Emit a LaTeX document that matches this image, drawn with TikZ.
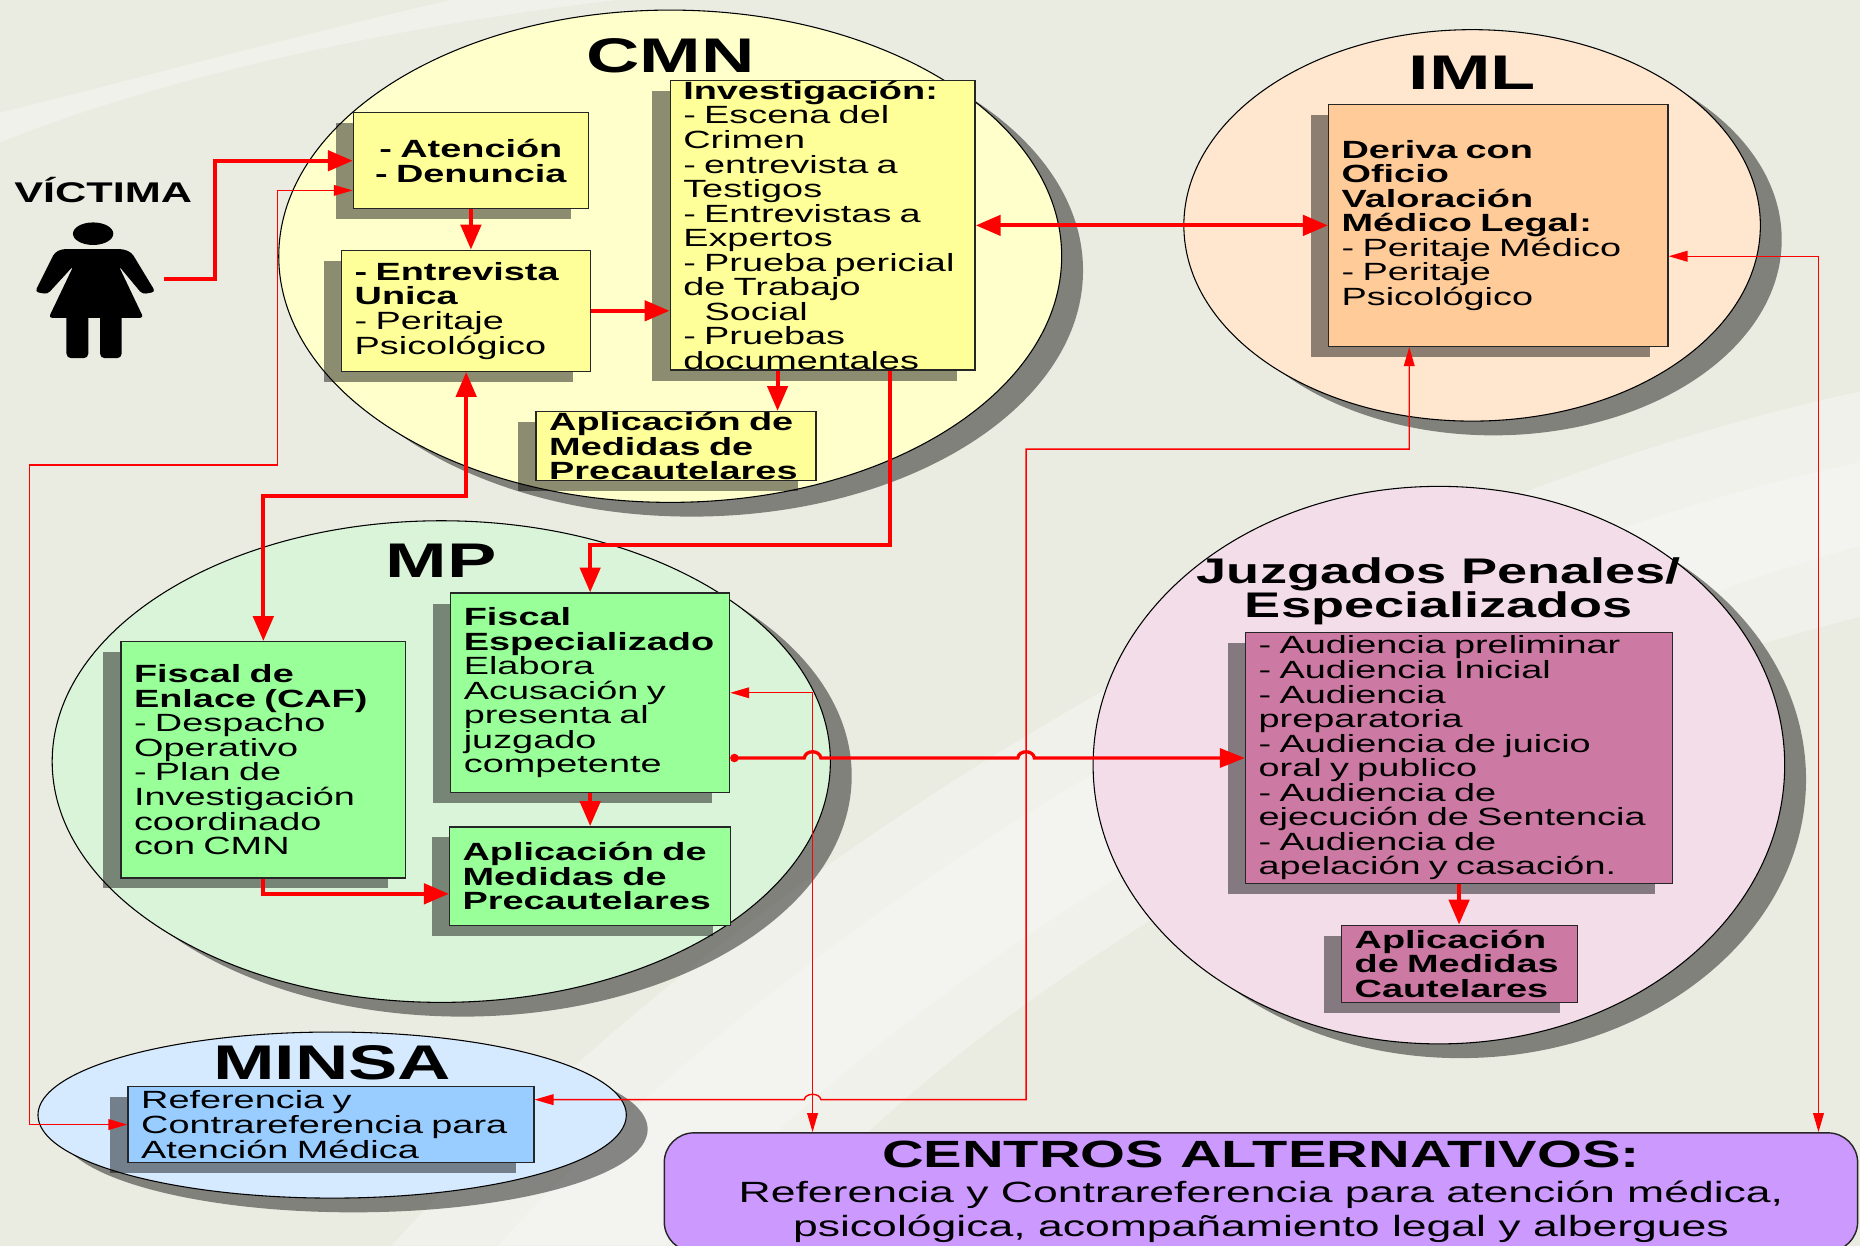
\documentclass[tikz,border=0pt]{standalone}
\usepackage{fontspec}
\setmainfont{Liberation Sans}[FakeStretch=1.52]
\usepackage{tikz}
\usetikzlibrary{shapes.geometric, arrows.meta, positioning, calc, shadows}

\definecolor{fondo}{HTML}{EAECE1}
\definecolor{fondoclaro}{HTML}{F0F1EA}
\definecolor{rojo}{HTML}{FF0000}
\definecolor{cmnfondo}{HTML}{FFFFCC}
\definecolor{cmncaja}{HTML}{FFFF99}
\definecolor{imlfondo}{HTML}{FFE7CF}
\definecolor{imlcaja}{HTML}{FFCC99}
\definecolor{mpfondo}{HTML}{D9F4D9}
\definecolor{mpcaja}{HTML}{99FF99}
\definecolor{juzfondo}{HTML}{F2DDE9}
\definecolor{juzcaja}{HTML}{CC7AA3}
\definecolor{minsafondo}{HTML}{D5E9FF}
\definecolor{minsacaja}{HTML}{99CCFF}
\definecolor{centroscaja}{HTML}{CC99FF}

\lineskiplimit=-50pt

\tikzset{
  circulo/.style={ellipse, draw=black, line width=0.9pt, inner sep=0pt,
    drop shadow={shadow xshift=18pt, shadow yshift=-12pt, fill=black, opacity=0.45}},
  caja/.style={rectangle, draw=black!85, line width=1.2pt, inner xsep=11pt, inner ysep=0pt,
    align=left, font=\fontsize{21}{20.7}\selectfont,
    drop shadow={shadow xshift=-15pt, shadow yshift=-9pt, fill=black, opacity=0.45}},
  titulo/.style={font=\bfseries\fontsize{41}{41}\selectfont},
  grueso/.style={draw=rojo, line width=3.5pt, -{Triangle[length=21pt,width=17pt]}},
  grueso doble/.style={draw=rojo, line width=3.5pt,
    {Triangle[length=21pt,width=17pt]}-{Triangle[length=21pt,width=17pt]}},
  medio/.style={draw=rojo, line width=2.8pt, {Circle[length=7pt]}-{Triangle[length=21pt,width=16pt]}},
  fino/.style={draw=rojo, line width=1.2pt,
    {Triangle[length=16pt,width=9pt]}-{Triangle[length=16pt,width=9pt]}},
}

\begin{document}
\begin{tikzpicture}[x=1pt, y=-1pt]
  % Background
  \useasboundingbox (0,0) rectangle (1568,1050);
  \fill[fondo] (0,0) rectangle (1568,1050);
  \fill[fondoclaro] (330,1050) .. controls (650,700) and (1150,420) .. (1568,330)
    -- (1568,520) .. controls (1250,600) and (850,800) .. (640,1050) -- cycle;
  \fill[white, opacity=0.25] (420,1050) .. controls (700,740) and (1180,470) .. (1568,390)
    -- (1568,460) .. controls (1220,560) and (800,780) .. (560,1050) -- cycle;
  \fill[fondoclaro] (0,120) .. controls (150,60) and (350,20) .. (520,0)
    -- (380,0) .. controls (250,30) and (100,70) .. (0,95) -- cycle;

  % Institutions
  \node[circulo, fill=cmnfondo, minimum width=660pt, minimum height=415pt] (cmn) at (565,216) {};
  \node[circulo, fill=imlfondo, minimum width=486pt, minimum height=330pt] (iml) at (1241,190) {};
  \node[circulo, fill=mpfondo, minimum width=656pt, minimum height=406pt] (mp) at (372,642) {};
  \node[circulo, fill=juzfondo, minimum width=583pt, minimum height=470pt] (juz) at (1213,645) {};
  \node[circulo, fill=minsafondo, minimum width=496pt, minimum height=140pt] (minsa) at (280,940) {};

  \node[titulo] (cmnT) at ([yshift=-39pt]cmn.north) {CMN};
  \node[titulo] (imlT) at ([yshift=-37pt]iml.north) {IML};
  \node[titulo] (mpT) at ([yshift=-34pt]mp.north) {MP};
  \node[align=center, font=\bfseries\fontsize{30}{29}\selectfont] (juzT) at ([yshift=-89pt]juz.north) {Juzgados Penales/\\Especializados};
  \node[titulo] (minsaT) at ([yshift=-26pt]minsa.north) {MINSA};

  % Victim
  \node[font=\bfseries\fontsize{24}{24}\selectfont] (victima) at (87,160) {VÍCTIMA};
  \fill (78.5,197) ellipse [x radius=17, y radius=9.5];
  \fill[rounded corners=3pt] (52,210) -- (104,210) -- (111,213) -- (131,246) -- (120,248)
    -- (100,224) -- (121,268) -- (41,268) -- (62,224) -- (40,248) -- (29.5,246) -- (46,213) -- cycle;
  \fill[rounded corners=4pt] (56,262) rectangle (74.5,302);
  \fill[rounded corners=4pt] (84.3,262) rectangle (102.6,302);
  \coordinate (mujer) at (138,235);

  % CMN boxes
  \node[caja, fill=cmncaja, text width=176pt, minimum height=81pt, align=center] (atencion) at (397,135.5)
    {\textbf{- Atención}\\\textbf{- Denuncia}};
  \node[caja, fill=cmncaja, text width=188pt, minimum height=102pt] (entrevista) at (393,262)
    {\textbf{- Entrevista}\\\textbf{Unica}\\- Peritaje\\Psicológico};
  \node[caja, fill=cmncaja, text width=235pt, minimum height=244pt] (investigacion) at (693.5,190)
    {\textbf{Investigación:}\\- Escena del\\Crimen\\- entrevista a\\Testigos\\- Entrevistas a\\Expertos\\- Prueba pericial\\de Trabajo\\\hspace*{18pt}Social\\- Pruebas\\documentales};
  \node[caja, fill=cmncaja, text width=214pt, minimum height=58pt] (aplicCMN) at (570,376)
    {\textbf{Aplicación de}\\\textbf{Medidas de}\\\textbf{Precautelares}};

  % IML box
  \node[caja, fill=imlcaja, text width=264pt, minimum height=204pt] (deriva) at (1263,190)
    {\textbf{Deriva con}\\\textbf{Oficio}\\\textbf{Valoración}\\\textbf{Médico Legal:}\\- Peritaje Médico\\- Peritaje\\Psicológico};

  % MP boxes
  \node[caja, fill=mpcaja, text width=218pt, minimum height=199pt] (enlace) at (222,640.5)
    {\textbf{Fiscal de}\\\textbf{Enlace (CAF)}\\- Despacho\\Operativo\\- Plan de\\Investigación\\coordinado\\con CMN};
  \node[caja, fill=mpcaja, text width=213pt, minimum height=168pt] (especializado) at (497.5,584)
    {\textbf{Fiscal}\\\textbf{Especializado}\\Elabora\\Acusación y\\presenta al\\juzgado\\competente};
  \node[caja, fill=mpcaja, text width=215pt, minimum height=83pt] (aplicMP) at (497.5,738.5)
    {\textbf{Aplicación de}\\\textbf{Medidas de}\\\textbf{Precautelares}};

  % Court boxes
  \node[caja, fill=juzcaja, text width=338pt, minimum height=212pt] (audiencias) at (1230,639)
    {- Audiencia preliminar\\- Audiencia Inicial\\- Audiencia\\preparatoria\\- Audiencia de juicio\\oral y publico\\- Audiencia de\\ejecución de Sentencia\\- Audiencia de\\apelación y casación.};
  \node[caja, fill=juzcaja, text width=177pt, minimum height=65pt] (cautelares) at (1230.5,812.5)
    {\textbf{Aplicación}\\\textbf{de Medidas}\\\textbf{Cautelares}};

  % MINSA box
  \node[caja, fill=minsacaja, text width=320pt, minimum height=64pt] (referencia) at (279,948)
    {Referencia y\\Contrareferencia para\\Atención Médica};

  % Alternative centres
  \node[rectangle, rounded corners=25pt, draw=black!85, line width=1.2pt, fill=centroscaja,
    minimum width=1006pt, minimum height=100pt, align=center,
    font=\fontsize{24.7}{29}\selectfont] (centros) at (1063,1005)
    {\textbf{\fontsize{32}{29}\selectfont CENTROS ALTERNATIVOS:}\\Referencia y Contrareferencia para atención médica,\\psicológica, acompañamiento legal y albergues};

  % Thick connections
  \draw[grueso] (mujer) -- ++(43,0) |- (atencion.west);
  \draw[grueso] (atencion.south) -- (atencion.south |- entrevista.north);
  \draw[grueso] (entrevista.east) -- (entrevista.east -| investigacion.west);
  \draw[grueso] ([xshift=-38pt]investigacion.south) -- ([xshift=-38pt]investigacion.south |- aplicCMN.north);
  \draw[grueso doble] (investigacion.east) -- (deriva.west);
  \draw[grueso doble] (enlace.north) -- ++(0,-122) -| (entrevista.south);
  \draw[grueso] ([xshift=57pt]investigacion.south) -- ++(0,147) -| (especializado.north);
  \draw[grueso] (especializado.south) -- (especializado.south |- aplicMP.north);
  \draw[grueso] (enlace.south) |- ([yshift=-15pt]aplicMP.west);
  \draw[grueso] (audiencias.south) -- (audiencias.south |- cautelares.north);

  % Thin connections
  \draw[fino] ([yshift=-25pt]atencion.west) -- (234,160.5) -- (234,392) -- (25,392) |- (referencia.west);
  \draw[fino] ([yshift=-26pt]deriva.east) -| ([xshift=470pt]centros.north);
  \draw[fino] (especializado.east) -| ([xshift=-378pt]centros.north);
  \draw[fino] ([xshift=-75pt]deriva.south) -- ++(0,86) -| (865,927) -- (692,927)
    .. controls (691,921) and (679,921) .. (678,927) -- ([yshift=21pt]referencia.east);

  % To the courts, hopping over the thin lines
  \draw[medio] ([yshift=-55pt]especializado.east) -- (678,639) .. controls (679,632) and (691,632) .. (692,639)
    -- (858,639) .. controls (859,632) and (871,632) .. (872,639) -- (audiencias.west);
\end{tikzpicture}
\end{document}
